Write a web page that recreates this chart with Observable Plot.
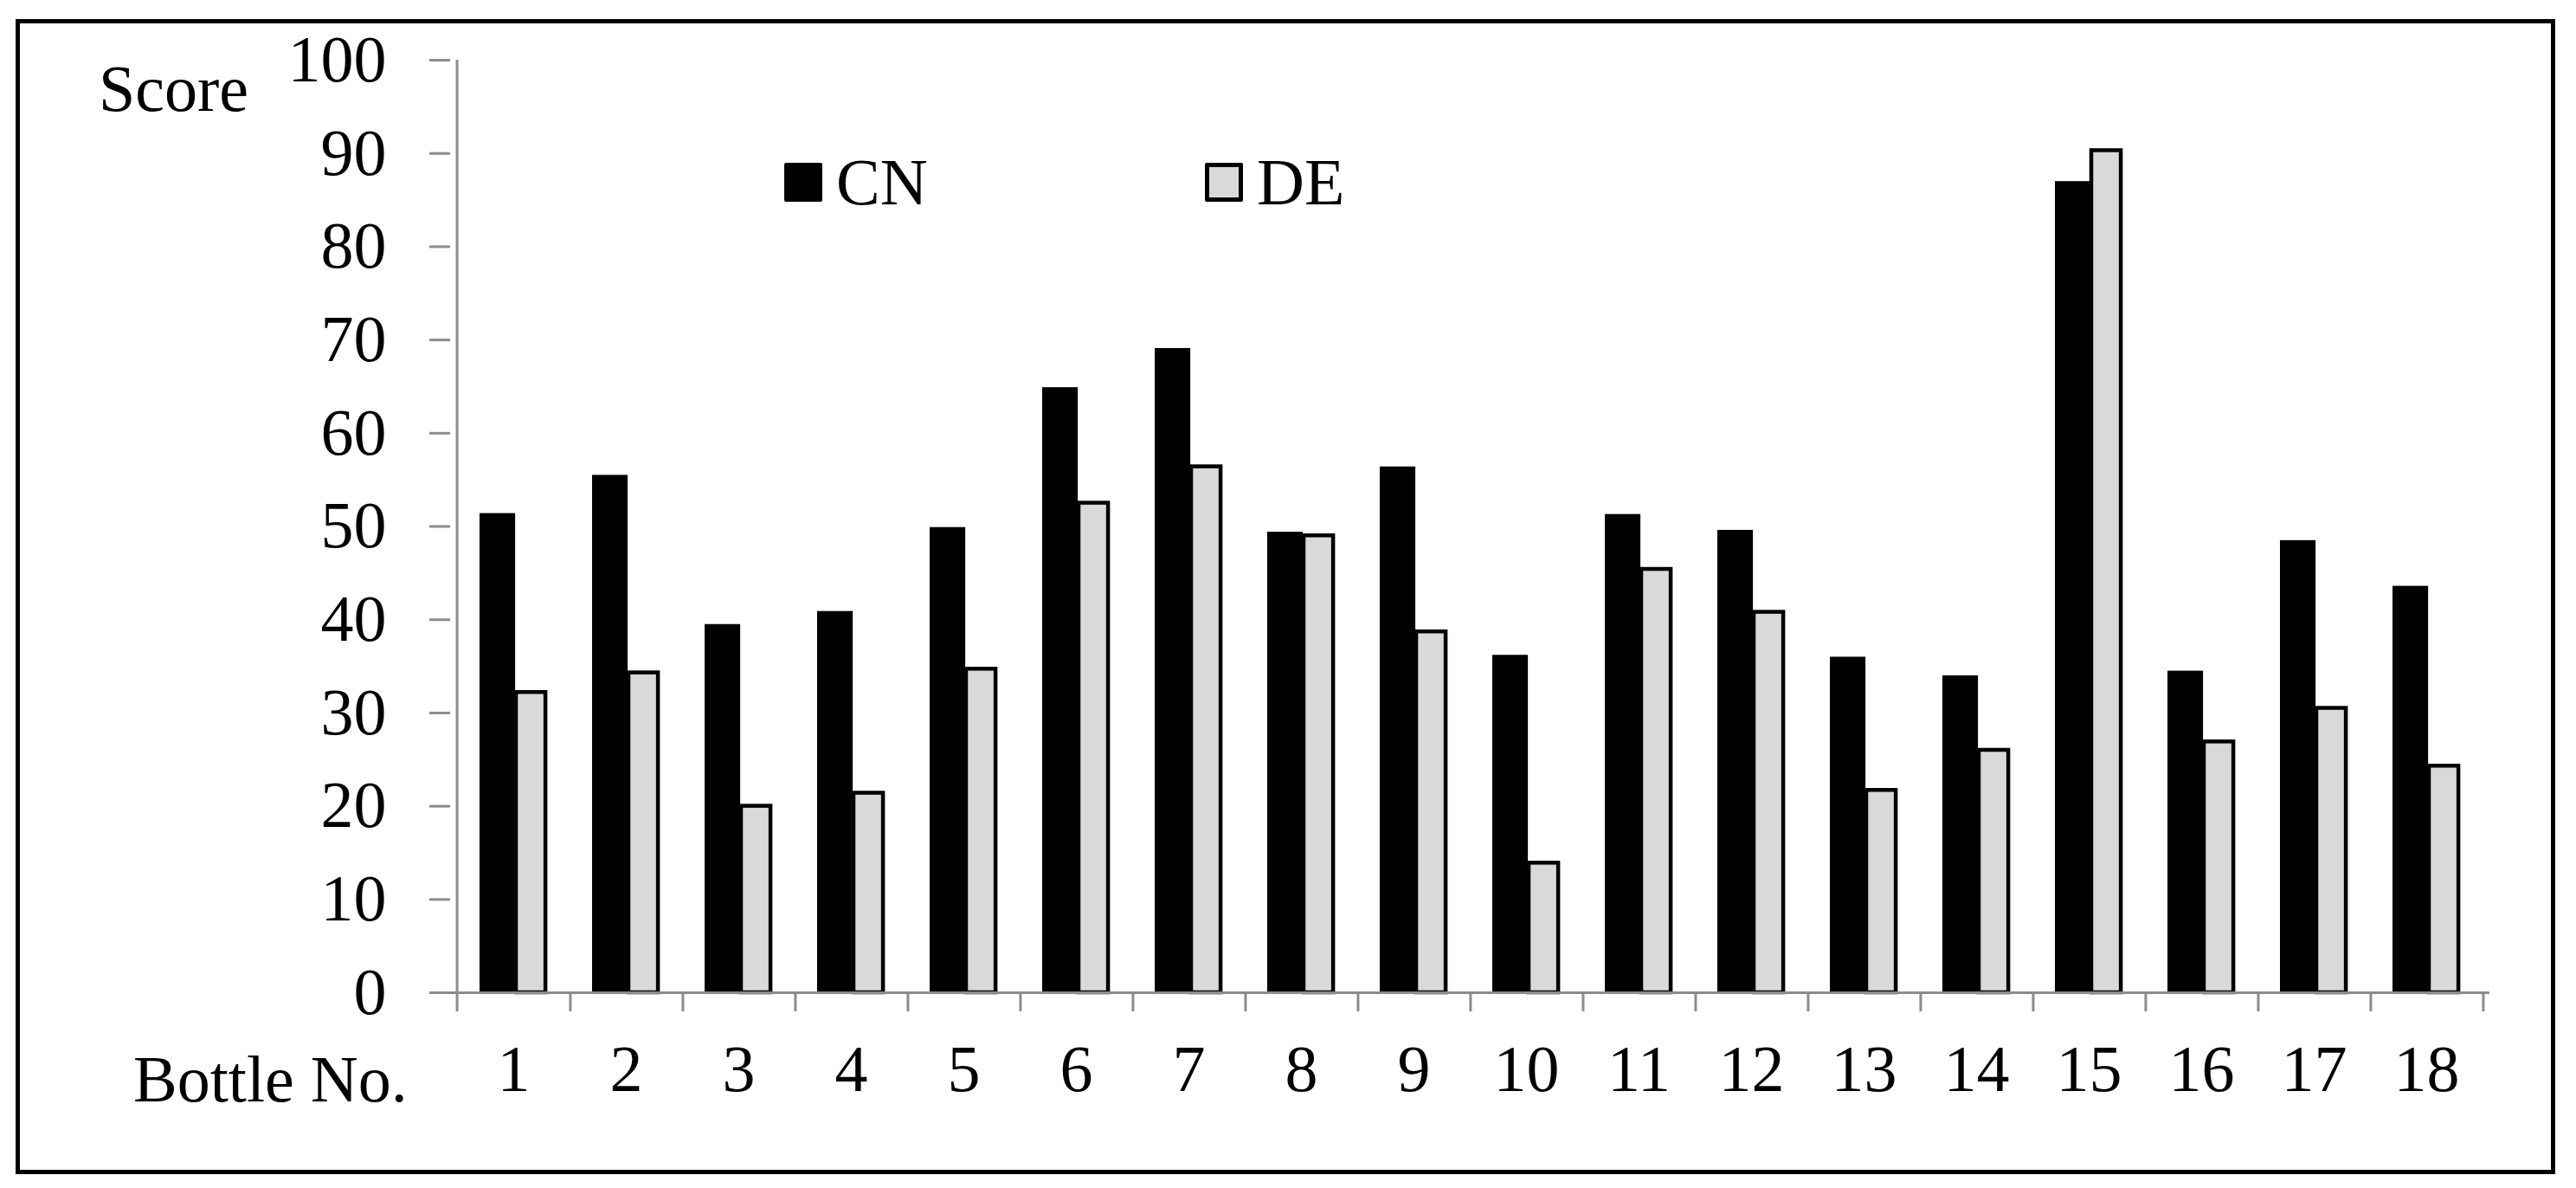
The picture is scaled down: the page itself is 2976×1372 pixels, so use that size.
<!DOCTYPE html>
<html>
<head>
<meta charset="utf-8">
<script src="https://cdn.jsdelivr.net/npm/d3@7"></script>
<script src="https://cdn.jsdelivr.net/npm/@observablehq/plot@0.6"></script>
<style>
  html, body { margin: 0; padding: 0; background: #fff; }
  #wrap { position: relative; width: 2976px; height: 1372px; overflow: hidden; background: #fff;
          font-family: "Liberation Serif", "Times New Roman", serif; color: #000; }
  #wrap svg { position: absolute; left: 0; top: 0; }
  .frame { position: absolute; left: 18px; top: 22px; width: 2934px; height: 1334px;
           border: 5px solid #000; box-sizing: border-box; pointer-events: none; }
  .lbl { position: absolute; font-size: 76px; line-height: 76px; white-space: nowrap; }
  .sw { position: absolute; width: 44px; height: 45px; box-sizing: border-box; border-radius: 2px; }
</style>
</head>
<body>
<div id="wrap">
  <div class="frame"></div>
  <div class="lbl" style="left:114px; top:64px;">Score</div>
  <div class="lbl" style="left:154px; top:1208px;">Bottle No.</div>
  <div id="legend"></div>
</div>
<script>
// ---- data ----
const bottles = ["1","2","3","4","5","6","7","8","9","10","11","12","13","14","15","16","17","18"];
const seriesNames = ["CN", "DE"];
const cnScores = [51.2, 55.3, 39.3, 40.7, 49.7, 64.7, 68.9, 49.2, 56.2, 36.0, 51.1, 49.4, 35.8, 33.8, 86.8, 34.3, 48.3, 43.4];
const deScores = [32.2, 34.3, 20.0, 21.4, 34.7, 52.5, 56.4, 49.0, 38.7, 13.9, 45.4, 40.8, 21.7, 26.0, 90.3, 26.9, 30.5, 24.3];
const yTicks = [0, 10, 20, 30, 40, 50, 60, 70, 80, 90, 100];
const seriesColors = ["#000000", "#d9d9d9"];

// ---- layout ----
const W = 2976, H = 1372;
const mL = 520, mR = 100, mT = 69, mB = 226;
const step = (W - mL - mR) / bottles.length;
const plotH = H - mT - mB;
const gray = "#8c8c8c";
const font = "Liberation Serif, Times New Roman, serif";

const cnData = bottles.map((b, i) => ({bottle: b, series: seriesNames[0], value: cnScores[i]}));
const deData = bottles.map((b, i) => ({bottle: b, series: seriesNames[1], value: deScores[i]}));

const chart = Plot.plot({
  width: W,
  height: H,
  marginLeft: mL,
  marginRight: mR,
  marginTop: mT,
  marginBottom: mB,
  style: {fontFamily: font, fontSize: "76px", background: "transparent", color: "#000"},
  x: {type: "band", domain: bottles, padding: 0, axis: null},
  y: {domain: [0, 100], axis: null},
  marks: [
    // bars
    Plot.barY(cnData, {x: "bottle", y: "value", fill: seriesColors[0], stroke: "#000", strokeWidth: 4,
      insetLeft: 28, insetRight: step - 66}),
    Plot.barY(deData, {x: "bottle", y: "value", fill: seriesColors[1], stroke: "#000", strokeWidth: 4.5,
      insetLeft: 68, insetRight: step - 103}),
    // baseline
    Plot.ruleY([0], {stroke: gray, strokeWidth: 3}),
    // y axis line + first category boundary tick
    Plot.ruleX([bottles[0]], {dx: -step / 2, stroke: gray, strokeWidth: 3, insetBottom: -22}),
    // category boundary ticks
    Plot.ruleX(bottles, {dx: step / 2, stroke: gray, strokeWidth: 3, insetTop: plotH, insetBottom: -22}),
    // y axis
    Plot.axisY(yTicks, {anchor: "left", tickSize: 24, tickPadding: 50, stroke: gray, strokeWidth: 3,
      fill: "#000", fontSize: 76, label: null}),
    // x axis labels
    Plot.axisX({anchor: "bottom", tickSize: 0, tickPadding: 60, fill: "#000", fontSize: 76, label: null})
  ]
});
document.getElementById("wrap").insertBefore(chart, document.querySelector(".frame"));

// legend
const legend = document.getElementById("legend");
const legendPos = [{sw: 906, tx: 966}, {sw: 1392, tx: 1452}];
seriesNames.forEach((name, i) => {
  const sw = document.createElement("div");
  sw.className = "sw";
  sw.style.left = legendPos[i].sw + "px";
  sw.style.top = "188px";
  sw.style.background = seriesColors[i];
  sw.style.border = "5px solid #000";
  legend.appendChild(sw);
  const t = document.createElement("div");
  t.className = "lbl";
  t.style.left = legendPos[i].tx + "px";
  t.style.top = "172px";
  t.textContent = name;
  legend.appendChild(t);
});
</script>
</body>
</html>
